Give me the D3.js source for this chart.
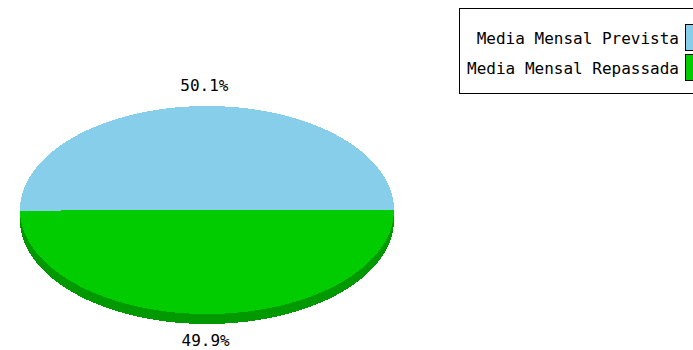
<!DOCTYPE html>
<html>
<head>
<meta charset="utf-8">
<script src="https://cdn.jsdelivr.net/npm/d3@7"></script>
<style>
  html, body { margin: 0; padding: 0; background: #fff; }
  svg { display: block; }
</style>
</head>
<body>
<svg id="chart" width="693" height="350"></svg>
<script>
// Monthly averages: forecast vs. transferred
const categories = ["Media Mensal Prevista", "Media Mensal Repassada"];
const values = [50.1, 49.9];
const labels = ["50.1%", "49.9%"];
const topColors = ["#87ceeb", "#00cc00"];
const sideColors = ["#6aa9c2", "#009a00"];

const svg = d3.select("#chart");
const W = 693, H = 350;
svg.append("rect").attr("width", W).attr("height", H).attr("fill", "#fff");

// 3D pie geometry
const cx = 207, cy = 210, rx = 187, ry = 104, depth = 10;
const fontFamily = "'DejaVu Sans Mono', monospace";

// Slices start at 3 o'clock and run counter-clockwise
const pie = d3.pie().sort(null).startAngle(0).endAngle(2 * Math.PI).value(d => d);
const arcs = pie(values);

const px = a => cx + rx * Math.cos(a);
const py = (a, dy = 0) => cy - ry * Math.sin(a) + dy;

// Sample an elliptical arc between two angles
function ellipsePoints(a0, a1, dy) {
  const n = Math.max(2, Math.ceil(Math.abs(a1 - a0) / 0.01));
  return d3.range(n + 1).map(i => {
    const a = a0 + (a1 - a0) * i / n;
    return [px(a), py(a, dy)];
  });
}

const g = svg.append("g").attr("shape-rendering", "crispEdges");

// Side walls: only the front (lower) half of the rim is visible
arcs.forEach((d, i) => {
  const a0 = Math.max(d.startAngle, Math.PI);
  const a1 = Math.min(d.endAngle, 2 * Math.PI);
  if (a1 <= a0) return;
  const top = ellipsePoints(a0, a1, 0);
  const bottom = ellipsePoints(a1, a0, depth);
  g.append("path")
    .attr("d", d3.line()(top.concat(bottom)) + "Z")
    .attr("fill", sideColors[i]);
});

// Top faces
arcs.forEach((d, i) => {
  const pts = [[cx, cy]].concat(ellipsePoints(d.startAngle, d.endAngle, 0));
  g.append("path")
    .attr("d", d3.line()(pts) + "Z")
    .attr("fill", topColors[i]);
});

// Percentage labels just outside each slice
arcs.forEach((d, i) => {
  const mid = (d.startAngle + d.endAngle) / 2;
  const s = Math.sin(mid);
  const x = cx + (rx + 21) * Math.cos(mid) - 2;
  const y = cy - (ry + 21) * s + (s < 0 ? depth - 5 : 0);
  svg.append("text")
    .attr("x", x)
    .attr("y", y)
    .attr("dy", "0.35em")
    .attr("text-anchor", "middle")
    .attr("font-family", fontFamily)
    .attr("font-size", 16)
    .attr("fill", "#000")
    .text(labels[i]);
});

// Legend
const legend = svg.append("g");
legend.append("rect")
  .attr("x", 459.5).attr("y", 8.5)
  .attr("width", 260).attr("height", 85)
  .attr("fill", "#fff").attr("stroke", "#000").attr("stroke-width", 1);

const rowY = d3.scalePoint().domain(categories).range([38, 68]);
categories.forEach((c, i) => {
  const y = rowY(c);
  legend.append("text")
    .attr("x", 679)
    .attr("y", y)
    .attr("dy", "0.35em")
    .attr("text-anchor", "end")
    .attr("font-family", fontFamily)
    .attr("font-size", 16)
    .attr("fill", "#000")
    .text(c);
  legend.append("rect")
    .attr("x", 685.5).attr("y", y - 13.5)
    .attr("width", 14).attr("height", 26)
    .attr("fill", topColors[i])
    .attr("stroke", "#000").attr("stroke-width", 1);
});
</script>
</body>
</html>
